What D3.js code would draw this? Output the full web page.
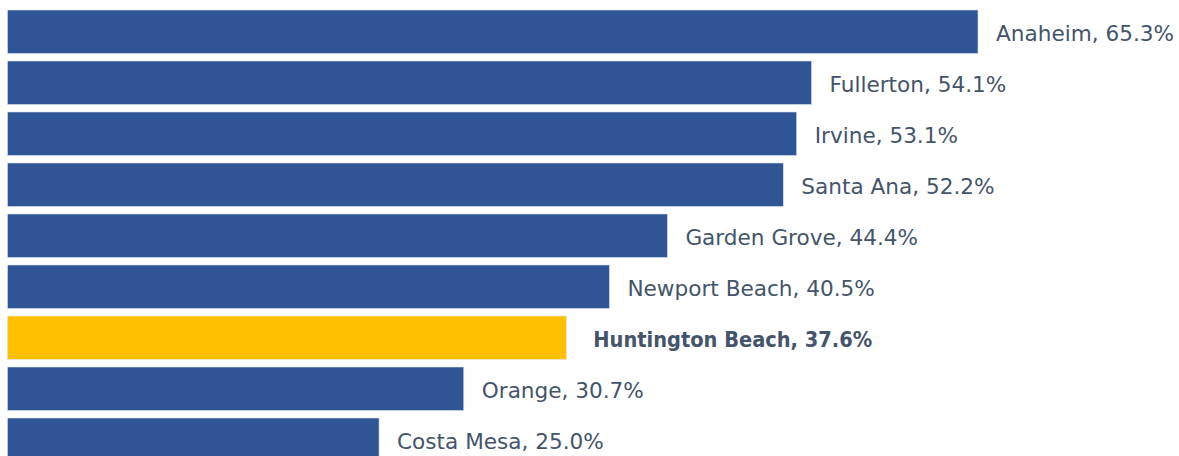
<!DOCTYPE html>
<html><head><meta charset="utf-8">
<script src="https://cdn.jsdelivr.net/npm/d3@7"></script>
<style>html,body{margin:0;padding:0;background:#fff;overflow:hidden}</style>
</head><body>
<svg id="c" width="1179" height="456"></svg>
<script>
const cities = ["Anaheim","Fullerton","Irvine","Santa Ana","Garden Grove","Newport Beach","Huntington Beach","Orange","Costa Mesa"];
const values = [65.3,54.1,53.1,52.2,44.4,40.5,37.6,30.7,25.0];
const highlight = "Huntington Beach";

const svg = d3.select("#c");
const step = 51;
const x = d3.scaleLinear().domain([0, 65.3]).range([7.5, 978]);
const y = d3.scaleBand().domain(cities)
  .range([10 - 0.0735*step, 10 - 0.0735*step + cities.length*step])
  .paddingInner(0.147).paddingOuter(0.0735);

const data = cities.map((c,i)=>({c, v: values[i]}));

svg.selectAll("rect.bar").data(data).join("rect")
  .attr("class","bar")
  .attr("x", x(0))
  .attr("y", d=>y(d.c))
  .attr("width", d=>x(d.v)-x(0))
  .attr("height", y.bandwidth())
  .attr("fill", d=>d.c===highlight ? "#FFC000" : "#2F5597")
  .attr("stroke", "#dce3ee").attr("stroke-width", 0.6);

svg.selectAll("text.lbl").data(data).join("text")
  .attr("class","lbl")
  .attr("x", d=>x(d.v)+(d.c===highlight ? 27 : 18))
  .attr("y", d=>y(d.c)+y.bandwidth()/2+1)
  .attr("dy","0.36em")
  .attr("font-family", d=>d.c===highlight ? "'DejaVu Sans Condensed', 'DejaVu Sans', sans-serif" : "'DejaVu Sans', sans-serif")
  .attr("font-stretch", d=>d.c===highlight ? "condensed" : "normal")
  .attr("font-size", 21.6)
  .attr("font-weight", d=>d.c===highlight ? 700 : 400)
  .attr("fill", "#44546A")
  .text(d=>`${d.c}, ${d.v.toFixed(1)}%`);
</script>
</body></html>
